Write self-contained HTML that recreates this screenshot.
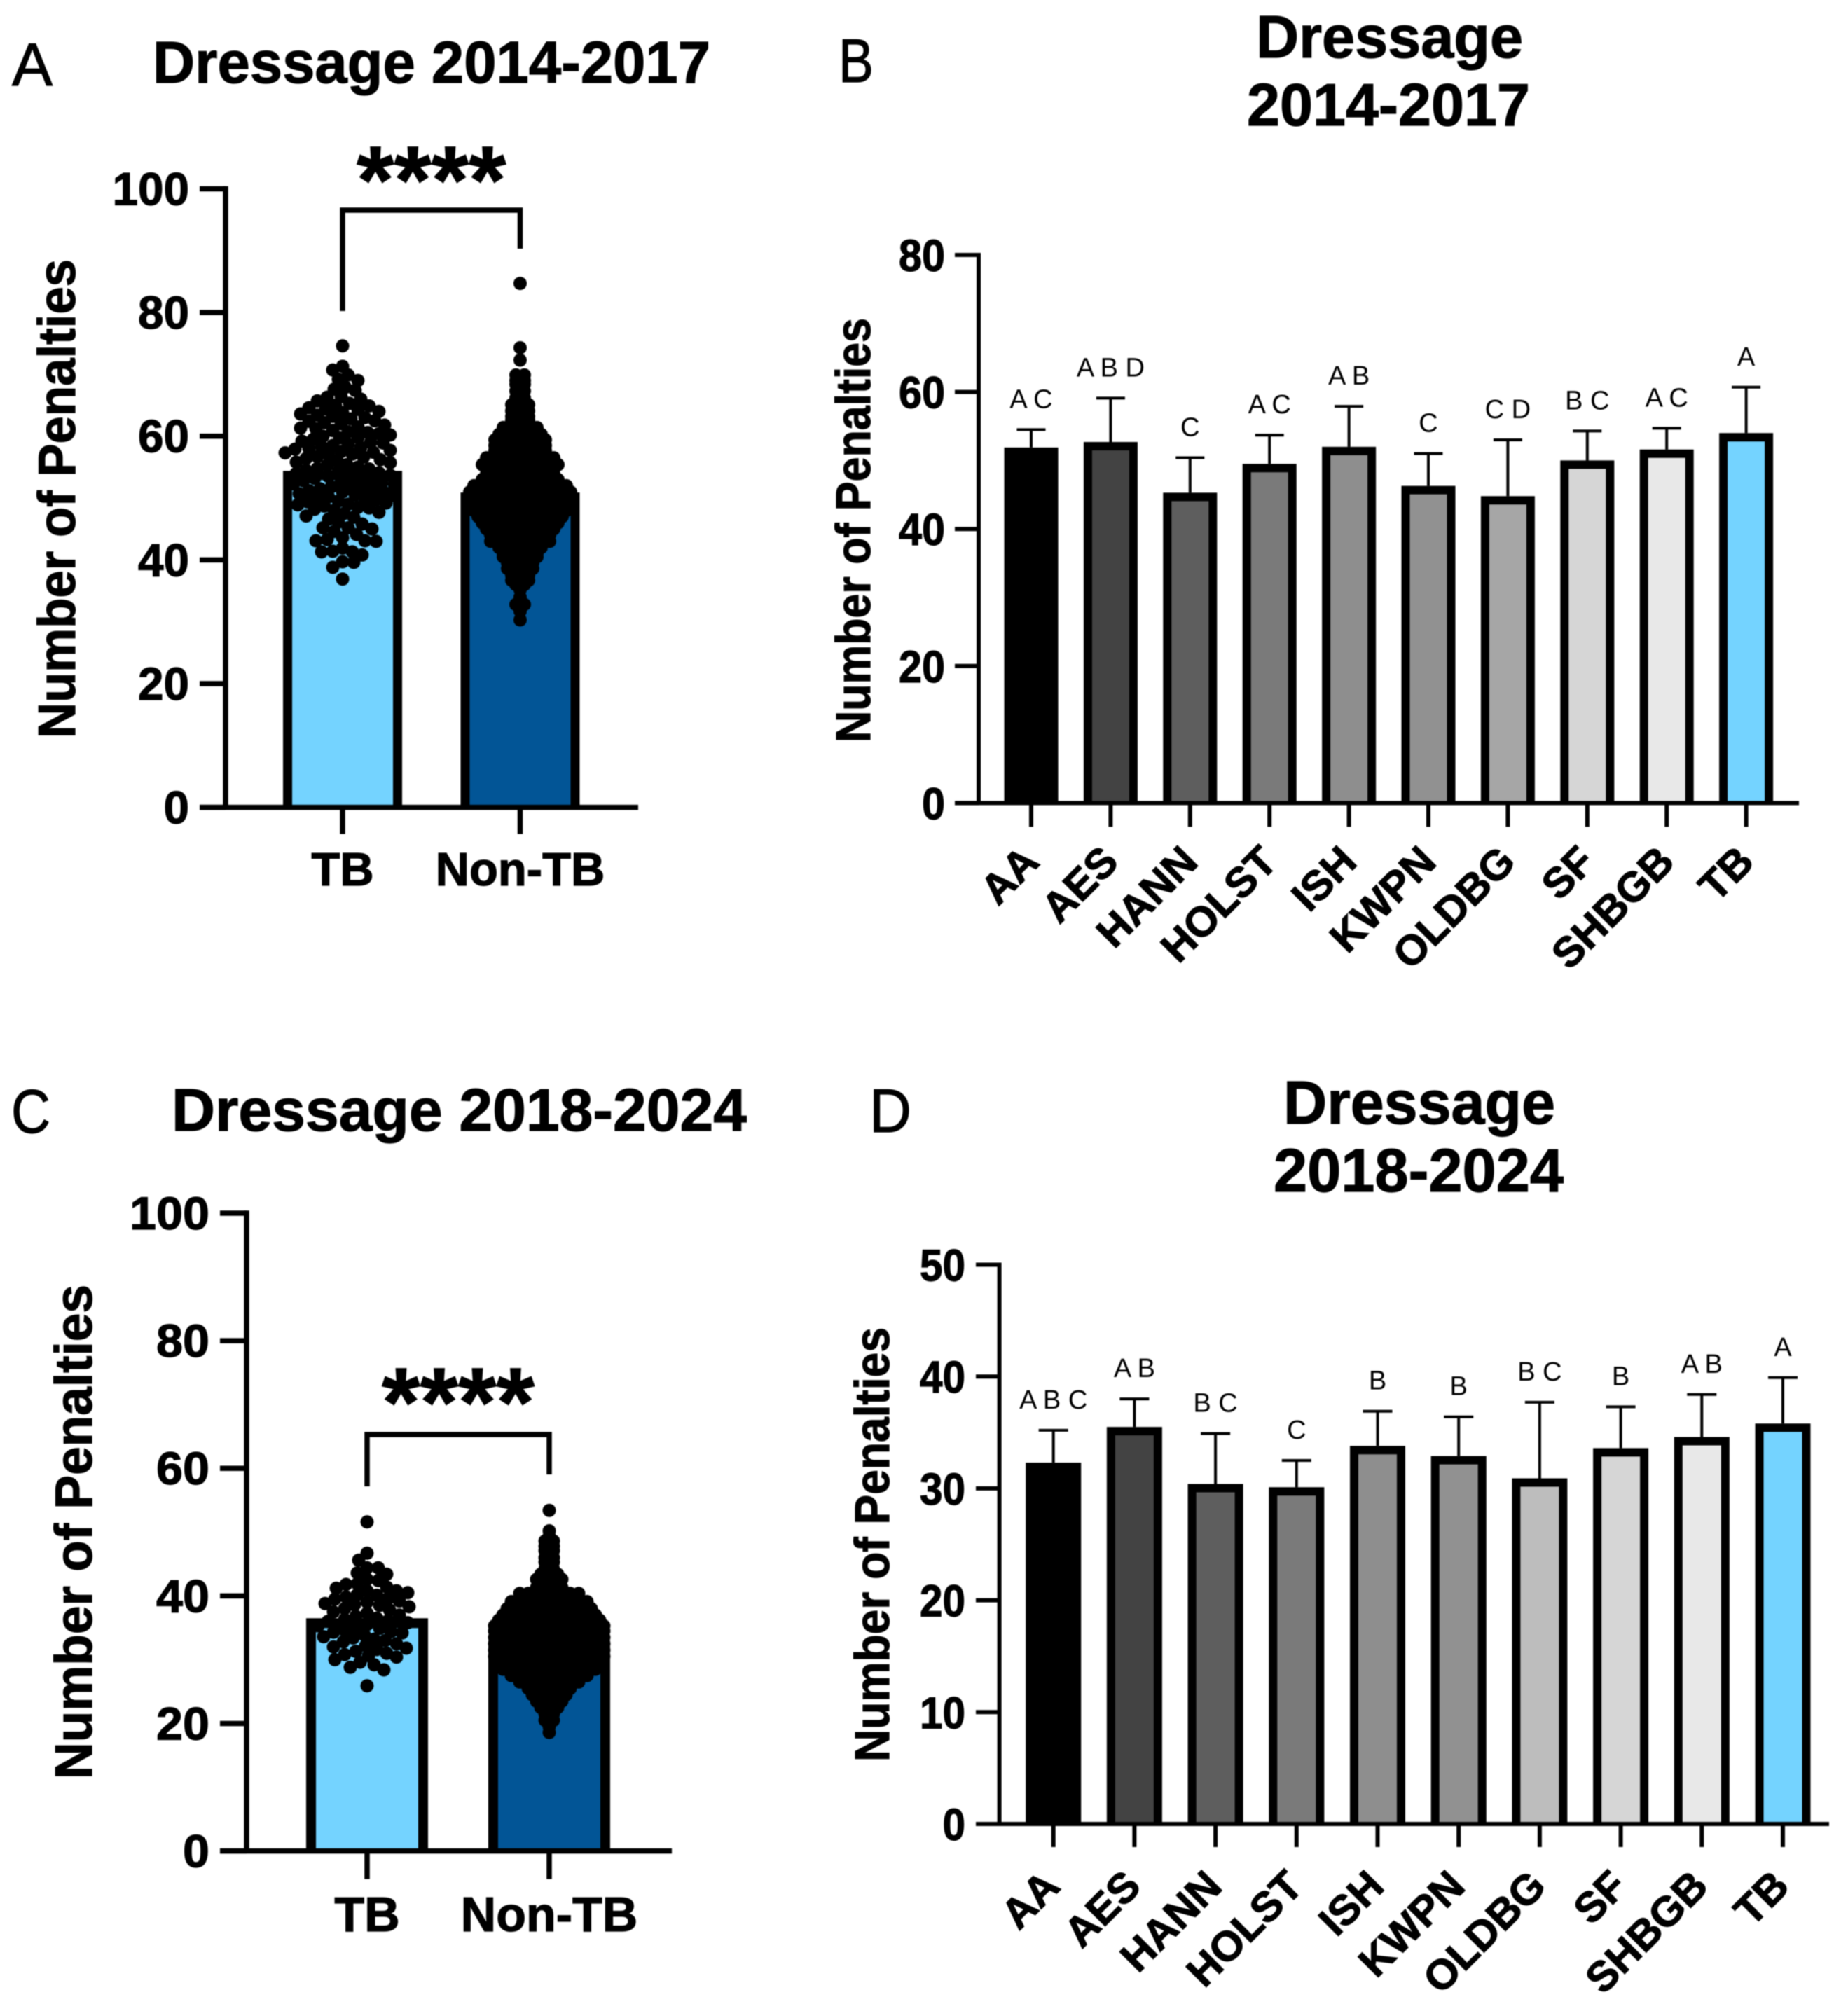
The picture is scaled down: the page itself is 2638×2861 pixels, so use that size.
<!DOCTYPE html>
<html lang="en">
<head>
<meta charset="utf-8">
<title>Dressage penalties by breed</title>
<style>
  html, body { margin: 0; padding: 0; background: #fff; }
  svg { display: block; filter: blur(0.7px); }
  text { font-family: "Liberation Sans", Arial, sans-serif; fill: #000; }
  .bold { font-weight: 700; stroke: #000; stroke-width: 1.2px; }
  .label { stroke: #000; stroke-width: 1.2px; }
</style>
</head>
<body>
<svg xmlns="http://www.w3.org/2000/svg" width="2638" height="2861" viewBox="0 0 2638 2861">
  <rect x="0" y="0" width="2638" height="2861" fill="#fff"/>

  <g id="panel-a">
    <text class="label" x="17" y="122" font-size="86" textLength="58" lengthAdjust="spacingAndGlyphs">A</text>
    <text class="bold" x="218" y="118" font-size="84" textLength="796" lengthAdjust="spacingAndGlyphs">Dressage 2014-2017</text>
    <text class="bold" transform="translate(107,712) rotate(-90)" text-anchor="middle" font-size="75" textLength="684" lengthAdjust="spacingAndGlyphs">Number of Penalties</text>
  </g>

  <g id="panel-b">
    <text class="label" x="1197" y="117" font-size="88" textLength="50" lengthAdjust="spacingAndGlyphs">B</text>
    <text class="bold" x="1793" y="82" font-size="85" textLength="381" lengthAdjust="spacingAndGlyphs">Dressage</text>
    <text class="bold" x="1780" y="179" font-size="85" textLength="404" lengthAdjust="spacingAndGlyphs">2014-2017</text>
    <text class="bold" transform="translate(1242,757) rotate(-90)" text-anchor="middle" font-size="70" textLength="606" lengthAdjust="spacingAndGlyphs">Number of Penalties</text>
  </g>

  <g id="panel-c">
    <text class="label" x="16" y="1617" font-size="88" textLength="56" lengthAdjust="spacingAndGlyphs">C</text>
    <text class="bold" x="245" y="1614" font-size="85" textLength="821" lengthAdjust="spacingAndGlyphs">Dressage 2018-2024</text>
    <text class="bold" transform="translate(131,2187) rotate(-90)" text-anchor="middle" font-size="75" textLength="706" lengthAdjust="spacingAndGlyphs">Number of Penalties</text>
  </g>

  <g id="panel-d">
    <text class="label" x="1241" y="1616" font-size="88" textLength="60" lengthAdjust="spacingAndGlyphs">D</text>
    <text class="bold" x="1832" y="1604" font-size="87" textLength="388" lengthAdjust="spacingAndGlyphs">Dressage</text>
    <text class="bold" x="1818" y="1701" font-size="87" textLength="414" lengthAdjust="spacingAndGlyphs">2018-2024</text>
    <text class="bold" transform="translate(1269,2205) rotate(-90)" text-anchor="middle" font-size="70" textLength="620" lengthAdjust="spacingAndGlyphs">Number of Penalties</text>
  </g>
</svg>

<script>
/* ---------- Data ---------- */
const groupCategories = ['TB', 'Non-TB'];
const breedCategories = ['AA', 'AES', 'HANN', 'HOLST', 'ISH', 'KWPN', 'OLDBG', 'SF', 'SHBGB', 'TB'];
const swarmTickLabels = ['0', '20', '40', '60', '80', '100'];
const swarmTickValues = [0, 20, 40, 60, 80, 100];
const breedBTickLabels = ['0', '20', '40', '60', '80'];
const breedBTickValues = [0, 20, 40, 60, 80];
const breedDTickLabels = ['0', '10', '20', '30', '40', '50'];
const breedDTickValues = [0, 10, 20, 30, 40, 50];

/* Panel A */
const panelABarValues = [54.4, 50.9];
const panelATbPoints = [74.6,71.3,70.7,69.9,69.2,69,67.9,67.6,67.4,66.4,66.3,66,65.7,65.3,65,64.9,64.6,64.4,64.3,64,63.8,63.6,63.4,63.2,63,62.8,62.5,62.4,62.2,62,61.8,61.5,61.3,61.2,60.9,60.7,60.6,60.4,60.2,60,59.8,59.7,59.5,59.2,59,58.9,58.7,58.5,58.3,58.2,58,57.9,57.7,57.5,57.4,57.3,57.1,57,56.7,56.6,56.4,56.2,56,55.8,55.7,55.4,55.3,55,54.8,54.7,54.5,54.3,54.1,54,53.8,53.7,53.5,53.3,53.2,53,52.8,52.7,52.5,52.3,52.2,52,51.8,51.7,51.5,51.3,51.2,51,50.9,50.7,50.5,50.4,50.2,50,49.9,49.7,49.5,49.4,49.2,49,48.9,48.7,48.5,48.4,48.2,48,47.7,47.5,47.1,46.9,46.6,46.1,45.8,45.2,45.2,45,44.6,44.1,43.6,43.3,43.1,43.1,43,41.9,41.4,41.3,41.3,40.8,39.7,39.6,38.8,36.9];
const panelANonTbRowValues = [84.7,74.3,72.3,69.9,69,68.4,67.3,66.2,65.1,64.1,63.2,62.6,61.4,60.3,59.4,58.5,57.7,56.5,55.4,54.6,53.9,53,52,51,50,49,48,47,46,45,44,43,42,41,40.5,39.5,38.6,37.5,36.7,36,35.2,34,32.8,31.7,30.3];
const panelANonTbRowCounts = [1,1,1,2,2,2,2,2,3,3,3,3,5,6,7,7,7,9,10,9,9,10,12,13,13,12,12,11,10,9,8,8,6,5,5,4,4,3,3,2,1,1,2,1,1];

/* Panel C */
const panelCBarValues = [36.5, 33];
const panelCTbPoints = [51.6,46.7,45.6,44.4,44.4,43.6,43.4,42.6,42.4,41.9,41.8,41.4,41.2,40.8,40.8,40.5,40.2,40.1,39.8,39.6,39.5,39.2,39,38.8,38.6,38.5,38.3,38,37.8,37.5,37.3,37,36.8,36.5,36.3,36.1,36,35.8,35.5,35.3,35.1,34.9,34.6,34.4,34.3,34.2,33.9,33.6,33.4,33.2,33,32.8,32.5,32.2,32,31.8,31.6,31.3,31,30.8,30.6,30.4,30,29.6,29.2,28.8,28.4,25.9];
const panelCNonTbRowValues = [53.4,50.2,49.4,48.6,47.8,47.1,46,45.3,44.2,43.4,42.6,41.3,40.4,39.1,38,37,36.2,35.3,34.5,33.5,32.5,31.5,30.5,29.5,28.5,27.5,26.5,25.5,24.5,23.5,22.5,21.5,20.5,19.5,18.6];
const panelCNonTbRowCounts = [1,1,1,2,2,2,2,2,2,3,4,4,8,10,11,12,13,14,14,14,14,14,14,13,12,10,8,6,5,4,3,2,2,1,1];

/* Panel B */
const panelBMeans = [51.9,52.7,45.3,49.5,52,46.3,44.8,50,51.6,54];
const panelBErrorTops = [54.5,59.1,50.4,53.7,57.9,51,53,54.3,54.7,60.7];
const panelBLetters = ['A C','A B D','C','A C','A B','C','C D','B C','A C','A'];
const panelBFills = ['#000000','#434343','#5e5e5e','#7a7a7a','#8e8e8e','#919191','#a6a6a6','#d6d6d6','#e8e8e8','#74d3ff'];

/* Panel D */
const panelDMeans = [32.3,35.5,30.4,30.1,33.8,32.9,30.9,33.6,34.6,35.8];
const panelDErrorTops = [35.2,38,34.9,32.5,36.9,36.4,37.7,37.3,38.4,39.9];
const panelDLetters = ['A B C','A B','B C','C','B','B','B C','B','A B','A'];
const panelDFills = ['#000000','#434343','#5e5e5e','#7a7a7a','#8e8e8e','#919191','#bdbdbd','#d6d6d6','#e8e8e8','#74d3ff'];

/* Group bar colours */
const groupFills = ['#74d3ff', '#025596'];

/* ---------- Drawing helpers ---------- */
const NS = 'http://www.w3.org/2000/svg';

function node(parent, tag, attrs, content) {
  const el = document.createElementNS(NS, tag);
  for (const k in attrs) el.setAttribute(k, attrs[k]);
  if (content !== undefined) el.textContent = content;
  parent.appendChild(el);
  return el;
}

function linearScale(v0, px0, v1, px1) {
  return v => px0 + (v - v0) * (px1 - px0) / (v1 - v0);
}

function drawAxes(g, cfg, tickValues, tickLabels, categories, y) {
  const yAxis = node(g, 'line', { x1: cfg.axisX, x2: cfg.axisX, y1: y(cfg.vMax) - cfg.lw / 2, y2: y(0), stroke: '#000', 'stroke-width': cfg.lw });
  
  
  const xAxis = node(g, 'line', { x1: cfg.tickLeft, x2: cfg.axisEnd, y1: y(0), y2: y(0), stroke: '#000', 'stroke-width': cfg.lw });
  
  

  tickValues.forEach((v, i) => {
    const t = node(g, 'line', { x1: cfg.tickLeft, x2: cfg.axisX, y1: y(v), y2: y(v), stroke: '#000', 'stroke-width': cfg.lw });
    
    
    const label = tickLabels[i];
    const lbl = node(g, 'text', {
      class: 'bold', x: cfg.tickLabelRight, y: y(v) + cfg.tickBaseline, 'text-anchor': 'end',
      'font-size': cfg.tickFont, textLength: label.length * cfg.digitW, lengthAdjust: 'spacingAndGlyphs'
    }, label);
    
    
  });

  categories.forEach((c, i) => {
    const cx = cfg.bandStart + i * cfg.bandStep;
    const t = node(g, 'line', { x1: cx, x2: cx, y1: y(0), y2: y(0) + cfg.xTickLen, stroke: '#000', 'stroke-width': cfg.lw });
    
    
    let lbl;
    if (cfg.rotated) {
      lbl = node(g, 'text', {
        class: 'bold', 'text-anchor': 'end', 'font-size': cfg.catFont,
        transform: 'translate(' + (cx + cfg.catDx) + ',' + (y(0) + cfg.catDy) + ') rotate(-45)'
      }, c);
    } else {
      lbl = node(g, 'text', {
        class: 'bold', 'text-anchor': 'middle', 'font-size': cfg.catFont, x: cx, y: cfg.catBaseline
      }, c);
    }
    
    
  });
}

/* Bar: fill down to the axis, outline on the top and both sides only. */
function drawBar(g, cx, value, fill, cfg, y) {
  const inset = cfg.barStroke / 2;
  const left = cx - cfg.barW / 2 + inset;
  const right = cx + cfg.barW / 2 - inset;
  const top = y(value) + inset;
  const bar = node(g, 'rect', { x: left, y: top, width: right - left, height: y(0) - top, fill: fill });
  
  
  const outline = node(g, 'path', {
    d: 'M' + left + ' ' + y(0) + 'V' + top + 'H' + right + 'V' + y(0),
    fill: 'none', stroke: '#000', 'stroke-width': cfg.barStroke
  });
  
  
}

/* Nearest-free-slot swarm: every dot keeps its value on y; x is resolved from collisions. */
function drawSwarm(g, cx, values, y, radius, minDist) {
  const placed = [];
  const sorted = values.slice().sort((a, b) => b - a);
  let side = 1;
  sorted.forEach(v => {
    const py = y(v);
    let off = 0;
    for (let step = 0; step < 400; step++) {
      const sign = step % 2 === 0 ? side : -side;
      const cand = sign * Math.ceil(step / 2) * 2;
      const clash = placed.some(p => {
        const dx = p.x - cand, dy = p.y - py;
        return dx * dx + dy * dy < minDist * minDist;
      });
      if (!clash) { off = cand; break; }
    }
    side = -side;
    placed.push({ x: off, y: py });
    const dot = node(g, 'circle', { cx: cx + off, cy: py, r: radius, fill: '#000' });
    
    
  });
}

/* Dense group: rows of dots at a value; the count gives the width of the row. */
function drawRows(g, cx, rowValues, rowCounts, y, radius, spacing) {
  rowValues.forEach((v, i) => {
    const n = rowCounts[i];
    for (let k = 0; k < n; k++) {
      const dot = node(g, 'circle', { cx: cx + (k - (n - 1) / 2) * spacing, cy: y(v), r: radius, fill: '#000' });
      
      
    }
  });
}

function drawSwarmPanel(id, cfg, barValues, tbPoints, rowValues, rowCounts) {
  const g = document.getElementById(id);
  const y = linearScale(0, cfg.y0, cfg.vMax, cfg.yMax);
  groupCategories.forEach((c, i) => drawBar(g, cfg.bandStart + i * cfg.bandStep, barValues[i], groupFills[i], cfg, y));
  drawAxes(g, cfg, swarmTickValues, swarmTickLabels, groupCategories, y);
  drawSwarm(g, cfg.bandStart, tbPoints, y, 9.5, cfg.swarmDist);
  drawRows(g, cfg.bandStart + cfg.bandStep, rowValues, rowCounts, y, 9.5, 12);

  const x1 = cfg.bandStart, x2 = cfg.bandStart + cfg.bandStep;
  const bracket = node(g, 'path', {
    d: 'M' + x1 + ' ' + cfg.bracketLeftEnd + 'V' + cfg.bracketY + 'H' + x2 + 'V' + cfg.bracketRightEnd,
    fill: 'none', stroke: '#000', 'stroke-width': cfg.lw
  });
  
  
  const stars = node(g, 'text', {
    class: 'bold', x: (x1 + x2) / 2, y: cfg.starBaseline, 'text-anchor': 'middle', 'font-size': cfg.starFont
  }, '****');
  
  
}

function drawBreedPanel(id, cfg, tickValues, tickLabels, means, errorTops, letters, fills) {
  const g = document.getElementById(id);
  const y = linearScale(0, cfg.y0, cfg.vMax, cfg.yMax);
  breedCategories.forEach((c, i) => {
    const cx = cfg.bandStart + i * cfg.bandStep;
    const stem = node(g, 'line', { x1: cx, x2: cx, y1: y(errorTops[i]), y2: y(means[i]), stroke: '#000', 'stroke-width': 4 });
    
    
    const cap = node(g, 'line', { x1: cx - cfg.capW / 2, x2: cx + cfg.capW / 2, y1: y(errorTops[i]), y2: y(errorTops[i]), stroke: '#000', 'stroke-width': 4 });
    
    
    drawBar(g, cx, means[i], fills[i], cfg, y);
    const letter = node(g, 'text', { x: cx, y: y(errorTops[i]) - cfg.letterGap, 'text-anchor': 'middle', 'font-size': cfg.letterFont }, letters[i]);
    
    
  });
  drawAxes(g, cfg, tickValues, tickLabels, breedCategories, y);
}

/* ---------- Layout ---------- */
drawSwarmPanel('panel-a', {
  y0: 1152.6, yMax: 269.5, vMax: 100, axisX: 322, tickLeft: 285, axisEnd: 911, lw: 7.5,
  tickLabelRight: 270, tickBaseline: 23, tickFont: 66, digitW: 36.5,
  bandStart: 489, bandStep: 253.5, barW: 170, barStroke: 13, xTickLen: 38,
  catFont: 67, catBaseline: 1264, swarmDist: 14.5,
  bracketY: 300, bracketLeftEnd: 444, bracketRightEnd: 355, starBaseline: 304, starFont: 137
}, panelABarValues, panelATbPoints, panelANonTbRowValues, panelANonTbRowCounts);

drawSwarmPanel('panel-c', {
  y0: 2642.6, yMax: 1732, vMax: 100, axisX: 352, tickLeft: 314, axisEnd: 959, lw: 7.5,
  tickLabelRight: 299, tickBaseline: 23, tickFont: 66, digitW: 38,
  bandStart: 524, bandStep: 260, barW: 174, barStroke: 14, xTickLen: 40,
  catFont: 70, catBaseline: 2757, swarmDist: 15,
  bracketY: 2048, bracketLeftEnd: 2122, bracketRightEnd: 2105, starBaseline: 2050, starFont: 140
}, panelCBarValues, panelCTbPoints, panelCNonTbRowValues, panelCNonTbRowCounts);

drawBreedPanel('panel-b', {
  y0: 1146.4, yMax: 364, vMax: 80, axisX: 1397, tickLeft: 1363, axisEnd: 2568, lw: 6,
  tickLabelRight: 1349, tickBaseline: 23, tickFont: 64, digitW: 33,
  bandStart: 1472, bandStep: 113.4, barW: 77, barStroke: 12, xTickLen: 34,
  rotated: true, catFont: 60, catDx: 14, catDy: 87, capW: 41, letterGap: 31, letterFont: 38
}, breedBTickValues, breedBTickLabels, panelBMeans, panelBErrorTops, panelBLetters, panelBFills);

drawBreedPanel('panel-d', {
  y0: 2604, yMax: 1805.5, vMax: 50, axisX: 1426.6, tickLeft: 1393, axisEnd: 2611, lw: 6,
  tickLabelRight: 1378, tickBaseline: 23, tickFont: 64, digitW: 32.5,
  bandStart: 1503.7, bandStep: 115.7, barW: 79, barStroke: 12, xTickLen: 33,
  rotated: true, catFont: 60, catDx: 12, catDy: 92, capW: 42, letterGap: 31, letterFont: 38
}, breedDTickValues, breedDTickLabels, panelDMeans, panelDErrorTops, panelDLetters, panelDFills);
</script>
</body>
</html>
